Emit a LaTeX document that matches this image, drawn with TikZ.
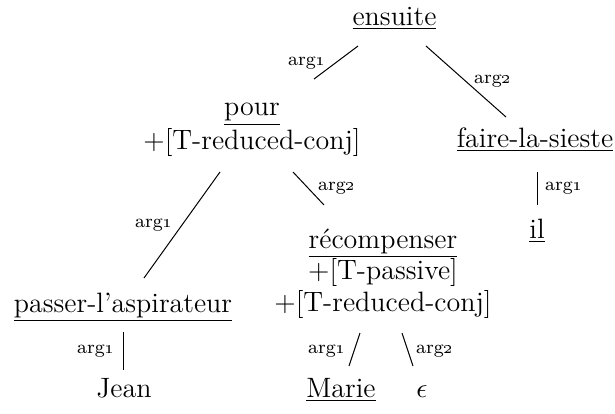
\documentclass[tikz,border=0pt]{standalone}
\newcommand\argn[1]{arg\oldstylenums{#1}}
\begin{document}
\begin{tikzpicture}[x=0.4pt,y=-0.4pt,
  lab/.style={font=\fontsize{7.5}{8}\selectfont, inner sep=0pt, anchor=base},
  word/.style={font=\fontsize{11.2}{12.4}\selectfont, inner sep=0pt, anchor=base, align=center},
  edge/.style={line width=0.4pt, black}]
\useasboundingbox (0,0) rectangle (615,414);
% nodes
\node[word] (ensuite) at (394.5,25) {\underline{ensuite}};
\node[word] (pour) at (252,149) {\underline{pour}\\+[T-reduced-conj]};
\node[word] (faire) at (535,147) {\underline{faire-la-sieste}};
\node[word] (il) at (537,238) {\underline{il}};
\node[word] (passer) at (123,312) {\underline{passer-l'aspirateur}};
\node[word] (jean) at (124,397) {Jean};
\node[word, font=\fontsize{11.2}{12.6}\selectfont] (recomp) at (383,311) {\underline{récompenser}\\+[T-passive]\\+[T-reduced-conj]};
\node[word] (marie) at (341,397) {\underline{Marie}};
\node[word] (eps) at (422,397) {$\epsilon$};
% edge end points
\coordinate (a1) at (358,46);  \coordinate (b1) at (314,79);
\coordinate (a2) at (426,46);  \coordinate (b2) at (506,117);
\coordinate (a3) at (220,172); \coordinate (b3) at (144,278);
\coordinate (a4) at (293,172); \coordinate (b4) at (324,205);
\coordinate (a5) at (537,172); \coordinate (b5) at (537,205);
\coordinate (a6) at (123,332); \coordinate (b6) at (123,370);
\coordinate (a7) at (360,333); \coordinate (b7) at (349,366);
\coordinate (a8) at (402,333); \coordinate (b8) at (413,366);
% connectors
\draw[edge] (a1) -- (b1);
\draw[edge] (a2) -- (b2);
\draw[edge] (a3) -- (b3);
\draw[edge] (a4) -- (b4);
\draw[edge] (a5) -- (b5);
\draw[edge] (a6) -- (b6);
\draw[edge] (a7) -- (b7);
\draw[edge] (a8) -- (b8);
% labels
\node[lab] (l1) at (307,65) {\argn{1}};
\node[lab] (l2) at (493,83) {\argn{2}};
\node[lab] (l3) at (154,227) {\argn{1}};
\node[lab] (l4) at (337,190) {\argn{2}};
\node[lab] (l5) at (564,190) {\argn{1}};
\node[lab] (l6) at (96,353) {\argn{1}};
\node[lab] (l7) at (327,353) {\argn{1}};
\node[lab] (l8) at (435,353) {\argn{2}};
\end{tikzpicture}
\end{document}
